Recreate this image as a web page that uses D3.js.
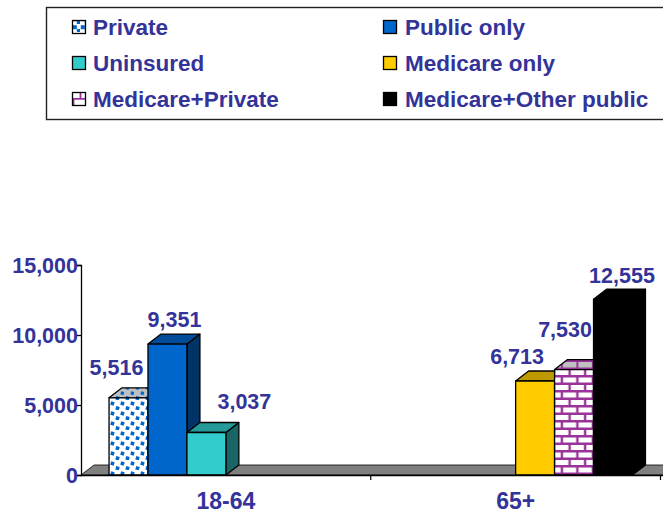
<!DOCTYPE html>
<html><head><meta charset="utf-8">
<script src="https://cdn.jsdelivr.net/npm/d3@7"></script>
<style>html,body{margin:0;padding:0;background:#fff}svg{display:block}
text{font-family:"Liberation Sans",Arial,sans-serif;font-weight:bold;fill:#333399}</style>
</head><body><div id="c"></div>
<script>
const categories = ["18-64", "65+"];
const seriesNames = ["Private", "Public only", "Uninsured", "Medicare only", "Medicare+Private", "Medicare+Other public"];
const privateVals = [5516, null];
const publicOnly = [9351, null];
const uninsured = [3037, null];
const medicareOnly = [null, 6713];
const medicarePrivate = [null, 7530];
const medicareOther = [null, 12555];
const yTicks = [0, 5000, 10000, 15000];

const allSeries = [privateVals, publicOnly, uninsured, medicareOnly, medicarePrivate, medicareOther];
const fronts = ["url(#dots)", "#0066CC", "#33CCCC", "#FFCC00", "url(#bricks)", "#000"];
const tops = ["url(#dotsTop)", "#004C99", "#269999", "#BF9900", "url(#bricksTop)", "#000"];
const sides = ["#0A3A6E", "#003366", "#1A6666", "#806600", "#662266", "#000"];
const swatches = ["url(#dotsLg)", "#0066CC", "#33CCCC", "#FFCC00", "url(#bricksLg)", "#000"];
const labelShift = [[-12, -23], [7, -17], [38, -23], [-18, -17], [-9, -33], [9, -16]];

const W = 663, H = 514, depthX = 13, depthY = 10;
const svg = d3.select("#c").append("svg").attr("width", W).attr("height", H);
const defs = svg.append("defs");

function dots(id, bg, size, step, r) {
  const p = defs.append("pattern").attr("id", id).attr("patternUnits", "userSpaceOnUse").attr("width", step).attr("height", step);
  p.append("rect").attr("width", step).attr("height", step).attr("fill", bg);
  p.append("rect").attr("x", step*0.1).attr("y", step*0.15).attr("width", size).attr("height", size).attr("fill", "#0066CC").attr("transform", `rotate(${r} ${step*0.2} ${step*0.2})`);
  p.append("rect").attr("x", step*0.6).attr("y", step*0.62).attr("width", size).attr("height", size).attr("fill", "#0066CC").attr("transform", `rotate(${r} ${step*0.7} ${step*0.7})`);
}
dots("dots", "#fff", 3.6, 10, 15);
dots("dotsTop", "#C0C0C0", 3.2, 10, 15);
dots("dotsLg", "#fff", 4, 8, 0);

function bricks(id, bg, w, h, sw) {
  const p = defs.append("pattern").attr("id", id).attr("patternUnits", "userSpaceOnUse").attr("width", w).attr("height", h * 2);
  p.append("rect").attr("width", w).attr("height", h * 2).attr("fill", bg);
  p.append("path").attr("stroke", "#993399").attr("stroke-width", sw).attr("fill", "none")
    .attr("d", `M0 ${sw/2}H${w}M0 ${h+sw/2}H${w}M${w/4} 0V${h}M${w*3/4} ${h}V${h*2}`);
}
bricks("bricks", "#fff", 15.5, 7.5, 2.4);
bricks("bricksTop", "#C0C0C0", 15.5, 7.5, 2);
bricks("bricksLg", "#fff", 14, 7, 1.8);

const x0 = d3.scaleBand().domain(categories).range([81, 660.5]);
const x1 = d3.scaleBand().domain(d3.range(seriesNames.length)).range([0, x0.bandwidth()]).paddingOuter(0.72).paddingInner(0);
const y = d3.scaleLinear().domain([0, 15000]).range([475, 265]);

// legend
svg.append("rect").attr("x", 46.5).attr("y", 7.5).attr("width", 640).attr("height", 112)
  .attr("fill", "#fff").attr("stroke", "#222").attr("stroke-width", 1.4);
const colX = [72, 383], textX = [93, 405], rowY = [20, 56, 92];
const order = [[0, 0, 0], [1, 1, 0], [2, 0, 1], [3, 1, 1], [4, 0, 2], [5, 1, 2]];
order.forEach(([i, c, r]) => {
  svg.append("rect").attr("x", colX[c] + .5).attr("y", rowY[r] + .5).attr("width", 13).attr("height", 13)
    .attr("fill", swatches[i]).attr("stroke", "#000").attr("stroke-width", 1.3);
  svg.append("text").attr("x", textX[c]).attr("y", rowY[r] + 15).style("font-size", "22.5px").text(seriesNames[i]);
});

// floor
const r0 = 81, r1 = 680;
svg.append("path").attr("fill", "#808080").attr("stroke", "#000").attr("stroke-width", .8)
  .attr("d", d3.line()([[r0, y(0)], [r0 + depthX, y(0) - depthY], [r1, y(0) - depthY], [r1, y(0)]]) + "Z");

// bars
categories.forEach((cat, ci) => {
  allSeries.forEach((vals, si) => {
    const v = vals[ci];
    if (v == null) return;
    const xl = x0(cat) + x1(si), w = x1.bandwidth(), xr = xl + w, yt = y(v), yb = y(0);
    const g = svg.append("g").attr("stroke", "#000").attr("stroke-width", 1.3).attr("stroke-linejoin", "round");
    g.append("path").attr("fill", sides[si]).attr("d", d3.line()([[xr, yb], [xr + depthX, yb - depthY], [xr + depthX, yt - depthY], [xr, yt]]) + "Z");
    g.append("path").attr("fill", tops[si]).attr("d", d3.line()([[xl, yt], [xl + depthX, yt - depthY], [xr + depthX, yt - depthY], [xr, yt]]) + "Z");
    g.append("rect").attr("x", xl).attr("y", yt).attr("width", w).attr("height", yb - yt).attr("fill", fronts[si]);
  });
});

// value labels
categories.forEach((cat, ci) => {
  allSeries.forEach((vals, si) => {
    const v = vals[ci];
    if (v == null) return;
    const cx = x0(cat) + x1(si) + x1.bandwidth() / 2;
    svg.append("text").attr("text-anchor", "middle").style("font-size", "21.5px")
      .attr("x", cx + labelShift[si][0]).attr("y", y(v) + labelShift[si][1])
      .text(d3.format(",")(v));
  });
});

// axes
const ax = svg.append("g").attr("transform", "translate(81,0)")
  .call(d3.axisLeft(y).tickValues(yTicks).tickFormat(d3.format(",")).tickSize(4).tickPadding(0));
ax.selectAll("path,line").attr("stroke", "#000").attr("stroke-width", 1.3);
ax.selectAll("text").attr("x", -3).attr("dy", "0.34em").attr("style", "font-size:21.5px;font-family:'Liberation Sans';fill:#333399;font-weight:bold");

const bx = svg.append("g").attr("transform", "translate(0,475)")
  .call(d3.axisBottom(x0).tickSize(0).tickPadding(18));
bx.select(".domain").attr("stroke", "#000").attr("stroke-width", 1.3).attr("d", `M81 0.5H${r1}`);
bx.selectAll("text").attr("style", "font-size:23px;font-family:'Liberation Sans';fill:#333399;font-weight:bold");
const edges = categories.map(c => x0(c) + x0.bandwidth());
bx.selectAll(".edge").data(edges).enter().append("line").attr("class", "edge")
  .attr("x1", d => d).attr("x2", d => d).attr("y1", 0).attr("y2", 5).attr("stroke", "#000").attr("stroke-width", 1.2);
</script></body></html>
